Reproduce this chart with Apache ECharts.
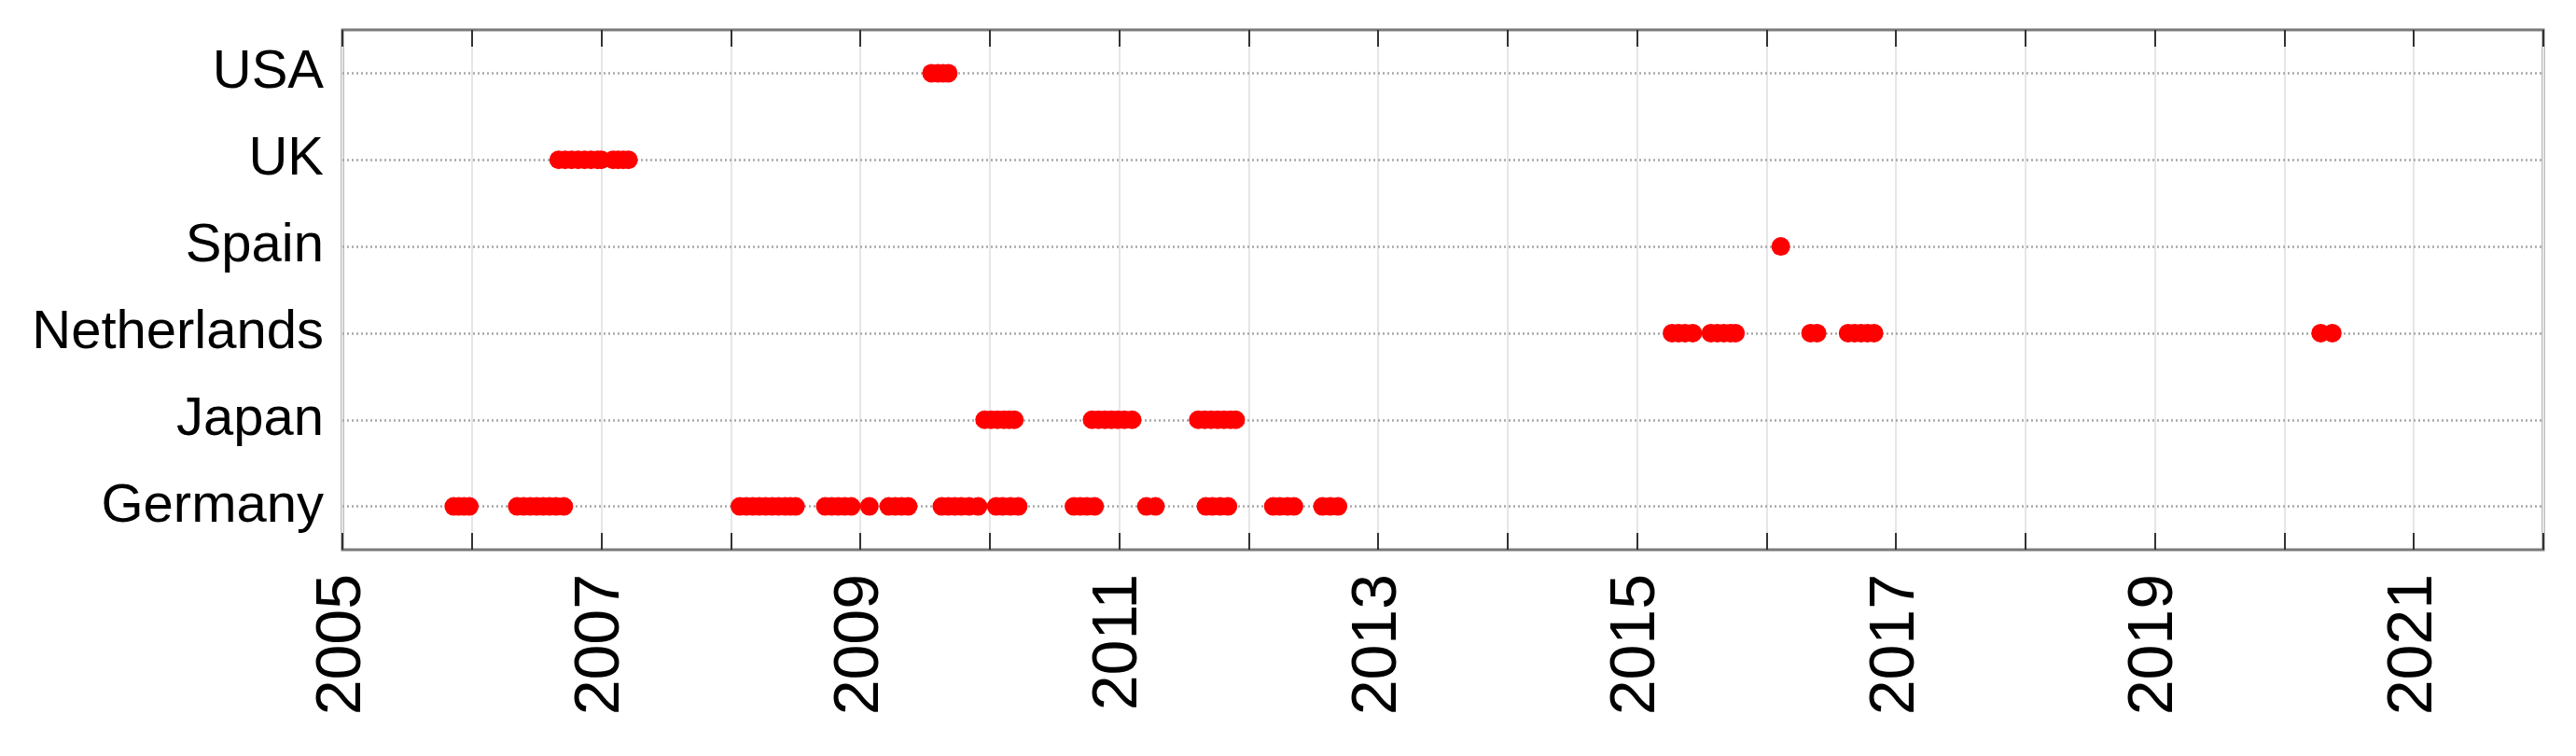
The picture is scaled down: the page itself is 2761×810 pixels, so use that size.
<!DOCTYPE html>
<html>
<head>
<meta charset="utf-8">
<title>Country timeline</title>
<script src="https://cdn.jsdelivr.net/npm/echarts@6/dist/echarts.min.js"></script>
<style>
  html, body { margin: 0; padding: 0; background: #fff; }
  #chart { width: 2761px; height: 810px; }
</style>
</head>
<body>
<div id="chart"></div>
<script>
// categories, bottom to top
var countries = ["Germany", "Japan", "Netherlands", "Spain", "UK", "USA"];

// event dates (decimal years) per country
var germany = [
  2005.86, 2005.90, 2005.94, 2005.98,
  2006.35, 2006.40, 2006.45, 2006.50, 2006.55, 2006.60, 2006.65, 2006.71,
  2008.07, 2008.12, 2008.17, 2008.22, 2008.27, 2008.32, 2008.37, 2008.42, 2008.46, 2008.50,
  2008.73, 2008.78, 2008.83, 2008.88, 2008.93,
  2009.07,
  2009.22, 2009.27, 2009.32, 2009.37,
  2009.63, 2009.68, 2009.73, 2009.78, 2009.84, 2009.91,
  2010.05, 2010.10, 2010.16, 2010.22,
  2010.65, 2010.70, 2010.75, 2010.81,
  2011.21, 2011.28,
  2011.67, 2011.72, 2011.78, 2011.84,
  2012.19, 2012.24, 2012.30, 2012.35,
  2012.57, 2012.63, 2012.69
];
var japan = [
  2009.96, 2010.01, 2010.06, 2010.11, 2010.15, 2010.19,
  2010.79, 2010.84, 2010.89, 2010.94, 2010.99, 2011.04, 2011.10,
  2011.61, 2011.66, 2011.71, 2011.76, 2011.81, 2011.86, 2011.90
];
var netherlands = [
  2015.27, 2015.32, 2015.37, 2015.43,
  2015.57, 2015.62, 2015.67, 2015.72, 2015.76,
  2016.34, 2016.39,
  2016.63, 2016.68, 2016.73, 2016.78, 2016.83,
  2020.28, 2020.37
];
var spain = [2016.11];
var uk = [
  2006.67, 2006.72, 2006.77, 2006.82, 2006.87, 2006.92, 2006.97, 2007.00,
  2007.09, 2007.13, 2007.17, 2007.21
];
var usa = [2009.55, 2009.60, 2009.64, 2009.68];

var byCountry = [germany, japan, netherlands, spain, uk, usa];

// x axis range (years)
var yearMin = 2005;
var yearMax = 2022;

var myChart = echarts.init(document.getElementById("chart"));

var series = countries.map(function (name, i) {
  return {
    name: name,
    type: "scatter",
    symbol: "circle",
    symbolSize: 20,
    itemStyle: { color: "#ff0000", opacity: 1 },
    data: byCountry[i].map(function (t) { return [t, name]; })
  };
});

// dotted guide line through each category
series[0].markLine = {
  z: 1,
  silent: true,
  symbol: ["none", "none"],
  label: { show: false },
  lineStyle: { color: "#a8a8a8", width: 2.5, type: [2, 3] },
  data: countries.map(function (c, i) { return { yAxis: i }; })
};

var option = {
  animation: false,
  grid: {
    left: 367,
    right: 35,
    top: 32,
    bottom: 221,
    show: true,
    borderColor: "#7a7a7a",
    borderWidth: 3,
    backgroundColor: "transparent"
  },
  xAxis: [{
    type: "value",
    position: "bottom",
    min: yearMin,
    max: yearMax,
    interval: 1,
    axisLine: { show: false },
    axisTick: { show: true, inside: true, length: 18, lineStyle: { color: "#333", width: 2 } },
    splitLine: { show: true, lineStyle: { color: "#e6e6e6", width: 2 } },
    axisLabel: {
      rotate: 90,
      margin: 26,
      fontSize: 68,
      fontFamily: "Liberation Sans, Arial, sans-serif",
      color: "#000",
      formatter: function (v) { return v % 2 === 1 ? String(v) : ""; }
    }
  }, {
    type: "value",
    position: "top",
    min: yearMin,
    max: yearMax,
    interval: 1,
    axisLine: { show: false },
    axisTick: { show: true, inside: true, length: 18, lineStyle: { color: "#333", width: 2 } },
    splitLine: { show: false },
    axisLabel: { show: false }
  }],
  yAxis: {
    type: "category",
    data: countries,
    boundaryGap: true,
    axisLine: { show: false },
    axisTick: { show: false },
    splitLine: { show: false },
    axisLabel: {
      margin: 20,
      fontSize: 58,
      fontFamily: "Liberation Sans, Arial, sans-serif",
      color: "#000"
    }
  },
  series: series
};

myChart.setOption(option);
</script>
</body>
</html>
